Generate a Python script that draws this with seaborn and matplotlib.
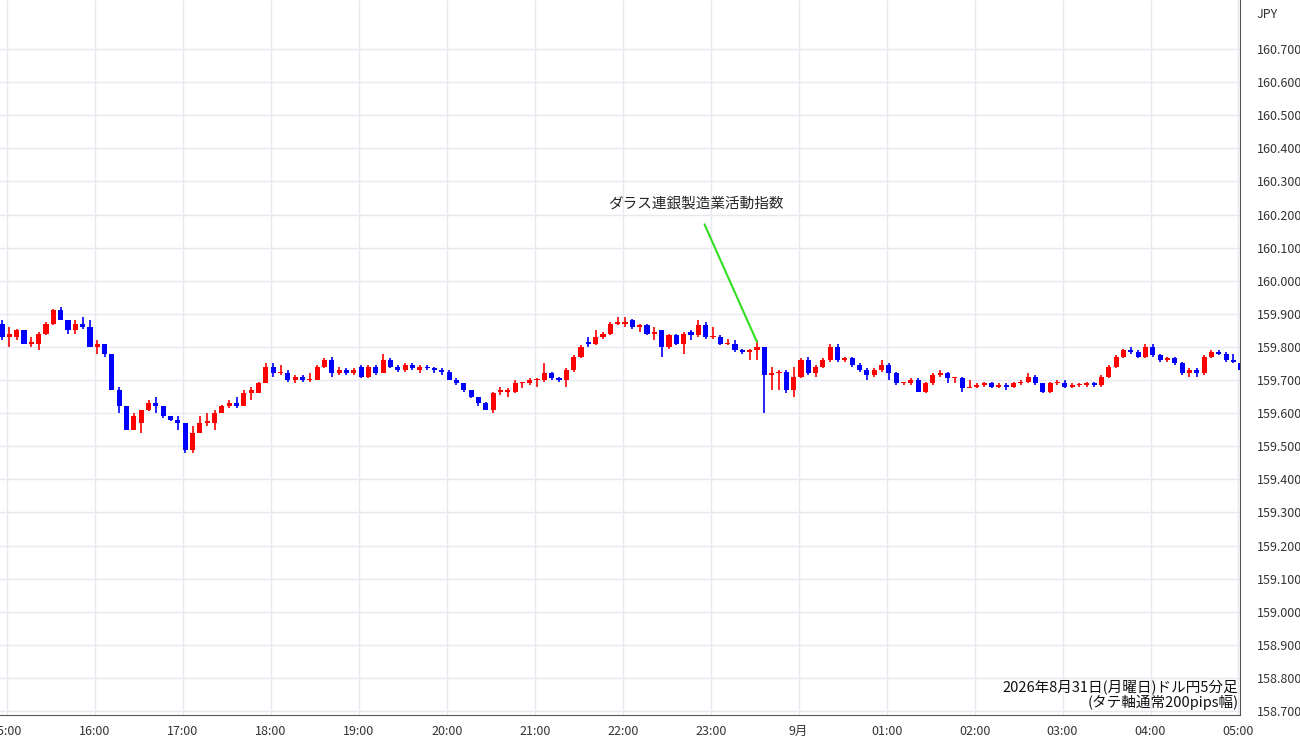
import numpy as np
import pandas as pd
import seaborn as sns
import matplotlib.pyplot as plt

# USD/JPY 5-minute candles, 15:00 -> 05:05
opens = [159.87, 159.83, 159.83, 159.85, 159.81, 159.81, 159.84, 159.87, 159.91, 159.88,
         159.85, 159.87, 159.86, 159.80, 159.81, 159.78, 159.67, 159.62, 159.55, 159.57,
         159.61, 159.63, 159.62, 159.59, 159.58, 159.57, 159.49, 159.54, 159.57, 159.57,
         159.60, 159.62, 159.63, 159.62, 159.66, 159.66, 159.69, 159.74, 159.72, 159.72,
         159.70, 159.71, 159.70, 159.70, 159.74, 159.76, 159.72, 159.73, 159.72, 159.74,
         159.71, 159.74, 159.72, 159.76, 159.74, 159.73, 159.745, 159.73, 159.74, 159.735,
         159.73, 159.725, 159.70, 159.69, 159.67, 159.65, 159.63, 159.61, 159.665, 159.665,
         159.665, 159.69, 159.69, 159.70, 159.70, 159.72, 159.705, 159.70, 159.73, 159.77,
         159.815, 159.81, 159.83, 159.84, 159.87, 159.87, 159.88, 159.86, 159.865, 159.84,
         159.85, 159.80, 159.835, 159.81, 159.845, 159.835, 159.865, 159.83, 159.83, 159.81,
         159.81, 159.79, 159.785, 159.79, 159.80, 159.715, 159.72, 159.725, 159.67, 159.71,
         159.76, 159.72, 159.74, 159.76, 159.80, 159.76, 159.765, 159.745, 159.73, 159.715,
         159.73, 159.745, 159.72, 159.69, 159.69, 159.70, 159.665, 159.69, 159.715, 159.72,
         159.705, 159.705, 159.675, 159.68, 159.685, 159.69, 159.68, 159.685, 159.68, 159.69,
         159.695, 159.71, 159.69, 159.665, 159.69, 159.69, 159.68, 159.685, 159.685, 159.69,
         159.685, 159.71, 159.74, 159.77, 159.79, 159.785, 159.77, 159.80, 159.775, 159.76,
         159.765, 159.75, 159.72, 159.73, 159.72, 159.77, 159.785, 159.78, 159.76, 159.75]
closes = [159.83, 159.84, 159.85, 159.81, 159.815, 159.84, 159.87, 159.91, 159.88, 159.85,
          159.87, 159.86, 159.80, 159.81, 159.78, 159.67, 159.62, 159.55, 159.59, 159.61,
          159.63, 159.62, 159.59, 159.58, 159.57, 159.49, 159.54, 159.57, 159.575, 159.60,
          159.62, 159.63, 159.62, 159.66, 159.67, 159.69, 159.74, 159.72, 159.72, 159.70,
          159.71, 159.70, 159.70, 159.74, 159.76, 159.72, 159.73, 159.72, 159.73, 159.71,
          159.74, 159.72, 159.76, 159.74, 159.73, 159.745, 159.735, 159.74, 159.735, 159.73,
          159.725, 159.70, 159.69, 159.67, 159.65, 159.63, 159.61, 159.66, 159.67, 159.67,
          159.69, 159.69, 159.70, 159.70, 159.72, 159.705, 159.70, 159.73, 159.77, 159.80,
          159.81, 159.83, 159.84, 159.87, 159.875, 159.875, 159.86, 159.865, 159.84, 159.845,
          159.80, 159.835, 159.81, 159.84, 159.835, 159.865, 159.83, 159.83, 159.81, 159.81,
          159.79, 159.785, 159.79, 159.80, 159.715, 159.72, 159.725, 159.67, 159.71, 159.76,
          159.72, 159.74, 159.76, 159.80, 159.76, 159.765, 159.745, 159.73, 159.715, 159.73,
          159.745, 159.72, 159.69, 159.69, 159.70, 159.665, 159.69, 159.715, 159.72, 159.705,
          159.705, 159.675, 159.68, 159.685, 159.69, 159.68, 159.685, 159.68, 159.69, 159.695,
          159.71, 159.69, 159.665, 159.69, 159.69, 159.68, 159.685, 159.685, 159.69, 159.685,
          159.71, 159.74, 159.77, 159.79, 159.785, 159.77, 159.80, 159.775, 159.76, 159.765,
          159.75, 159.72, 159.73, 159.72, 159.77, 159.785, 159.78, 159.76, 159.755, 159.73]
highs = [159.88, 159.86, 159.855, 159.85, 159.83, 159.845, 159.875, 159.915, 159.92, 159.88,
         159.88, 159.89, 159.88, 159.82, 159.81, 159.78, 159.68, 159.62, 159.60, 159.61,
         159.64, 159.65, 159.62, 159.59, 159.59, 159.57, 159.56, 159.59, 159.60, 159.61,
         159.625, 159.64, 159.65, 159.67, 159.68, 159.695, 159.75, 159.75, 159.745, 159.73,
         159.715, 159.715, 159.72, 159.745, 159.765, 159.77, 159.74, 159.735, 159.735, 159.745,
         159.745, 159.745, 159.78, 159.765, 159.745, 159.75, 159.75, 159.745, 159.745, 159.74,
         159.735, 159.73, 159.705, 159.69, 159.67, 159.65, 159.635, 159.665, 159.68, 159.675,
         159.70, 159.695, 159.705, 159.705, 159.75, 159.725, 159.71, 159.735, 159.775, 159.805,
         159.83, 159.85, 159.845, 159.875, 159.89, 159.89, 159.885, 159.87, 159.87, 159.86,
         159.85, 159.84, 159.84, 159.845, 159.85, 159.88, 159.875, 159.86, 159.835, 159.825,
         159.82, 159.795, 159.795, 159.82, 159.80, 159.74, 159.73, 159.73, 159.74, 159.765,
         159.77, 159.745, 159.765, 159.81, 159.81, 159.77, 159.77, 159.75, 159.735, 159.735,
         159.76, 159.75, 159.725, 159.695, 159.705, 159.705, 159.695, 159.72, 159.73, 159.725,
         159.71, 159.71, 159.70, 159.69, 159.695, 159.695, 159.69, 159.69, 159.695, 159.70,
         159.72, 159.715, 159.69, 159.695, 159.70, 159.70, 159.69, 159.69, 159.695, 159.695,
         159.715, 159.745, 159.775, 159.795, 159.80, 159.79, 159.81, 159.81, 159.78, 159.77,
         159.77, 159.755, 159.735, 159.735, 159.775, 159.79, 159.79, 159.785, 159.78, 159.755]
lows = [159.82, 159.80, 159.82, 159.81, 159.80, 159.79, 159.835, 159.865, 159.88, 159.84,
        159.84, 159.855, 159.80, 159.78, 159.77, 159.67, 159.60, 159.55, 159.55, 159.54,
        159.605, 159.60, 159.585, 159.575, 159.55, 159.48, 159.48, 159.54, 159.56, 159.55,
        159.60, 159.615, 159.615, 159.62, 159.64, 159.66, 159.69, 159.71, 159.715, 159.695,
        159.69, 159.695, 159.695, 159.70, 159.735, 159.71, 159.715, 159.715, 159.715, 159.705,
        159.705, 159.715, 159.72, 159.735, 159.725, 159.725, 159.73, 159.72, 159.73, 159.72,
        159.715, 159.70, 159.685, 159.665, 159.645, 159.62, 159.61, 159.60, 159.655, 159.65,
        159.66, 159.675, 159.685, 159.68, 159.695, 159.70, 159.695, 159.68, 159.725, 159.765,
        159.80, 159.805, 159.825, 159.835, 159.865, 159.86, 159.855, 159.845, 159.835, 159.82,
        159.77, 159.795, 159.805, 159.78, 159.82, 159.83, 159.825, 159.825, 159.805, 159.805,
        159.785, 159.78, 159.76, 159.76, 159.60, 159.67, 159.67, 159.66, 159.65, 159.705,
        159.715, 159.71, 159.735, 159.755, 159.755, 159.755, 159.74, 159.725, 159.70, 159.71,
        159.725, 159.70, 159.685, 159.685, 159.685, 159.665, 159.66, 159.685, 159.71, 159.69,
        159.69, 159.665, 159.675, 159.675, 159.68, 159.675, 159.675, 159.67, 159.675, 159.685,
        159.69, 159.685, 159.66, 159.66, 159.685, 159.675, 159.675, 159.68, 159.68, 159.68,
        159.68, 159.705, 159.735, 159.765, 159.78, 159.765, 159.765, 159.77, 159.755, 159.755,
        159.745, 159.715, 159.71, 159.71, 159.715, 159.765, 159.775, 159.755, 159.75, 159.725]

hour_labels = ["15:00", "16:00", "17:00", "18:00", "19:00", "20:00", "21:00", "22:00",
               "23:00", "9月", "01:00", "02:00", "03:00", "04:00", "05:00"]
event_label = "ダラス連銀製造業活動指数"
event_index = 103
note = "2026年8月31日(月曜日)ドル円5分足\n(タテ軸通常200pips幅)"

df = pd.DataFrame({"open": opens, "close": closes, "high": highs, "low": lows})
df["i"] = np.arange(len(df))
df["up"] = df["close"] >= df["open"]

sns.set_style("white")
plt.rcParams["font.family"] = ["Noto Sans CJK JP", "DejaVu Sans"]

fig = plt.figure(figsize=(13, 7.45), dpi=100)
ax = fig.add_axes([0.0, 1 - 715 / 745, 1240 / 1300, 715 / 745])

grid_c = "#e6eaf0"
ax.set_xlim(-0.27, 168.9)
ax.set_ylim(158.688, 160.848)
ax.set_yticks(np.round(np.arange(158.7, 160.75, 0.1), 1))
ax.set_yticklabels([f"{v:.3f}" for v in np.arange(158.7, 160.75, 0.1)])
hour_pos = [0.69 + 12 * k for k in range(len(hour_labels))]
ax.set_xticks(hour_pos)
ax.set_xticklabels(hour_labels)
ax.grid(True, color=grid_c, linewidth=1)
ax.set_axisbelow(True)
ax.yaxis.tick_right()
ax.tick_params(axis="y", labelsize=9, labelcolor="#333333", length=0, pad=12)
ax.tick_params(axis="x", labelsize=9, labelcolor="#333333", length=0, pad=7)
for s in ["top", "left"]:
    ax.spines[s].set_visible(False)
ax.spines["right"].set_color("#555555")
ax.spines["bottom"].set_color("#555555")

colors = np.where(df["up"], "#ff0000", "#0000ff")
ax.vlines(df["i"], df["low"], df["high"], colors=colors, linewidth=1.2, zorder=2)
bottoms = np.minimum(df["open"], df["close"])
heights = np.maximum((df["close"] - df["open"]).abs(), 0.003)
ax.bar(df["i"], heights, bottom=bottoms, width=0.7, color=colors, linewidth=0, zorder=3)

ax.annotate(event_label, xy=(event_index, highs[event_index] - 0.005),
            xytext=(94.6, 160.232), ha="center", va="center", fontsize=10.5,
            arrowprops=dict(arrowstyle="-", color="#33dd22", lw=1.5, shrinkA=8, shrinkB=0))

ax.text(168.7, 158.703, note, ha="right", va="bottom", fontsize=10.5,
        linespacing=0.95, color="#111111")
fig.text(1257 / 1300, 1 - 14 / 745, "JPY", fontsize=9, color="#333333", va="center")

fig.savefig("out.png", dpi=100)
